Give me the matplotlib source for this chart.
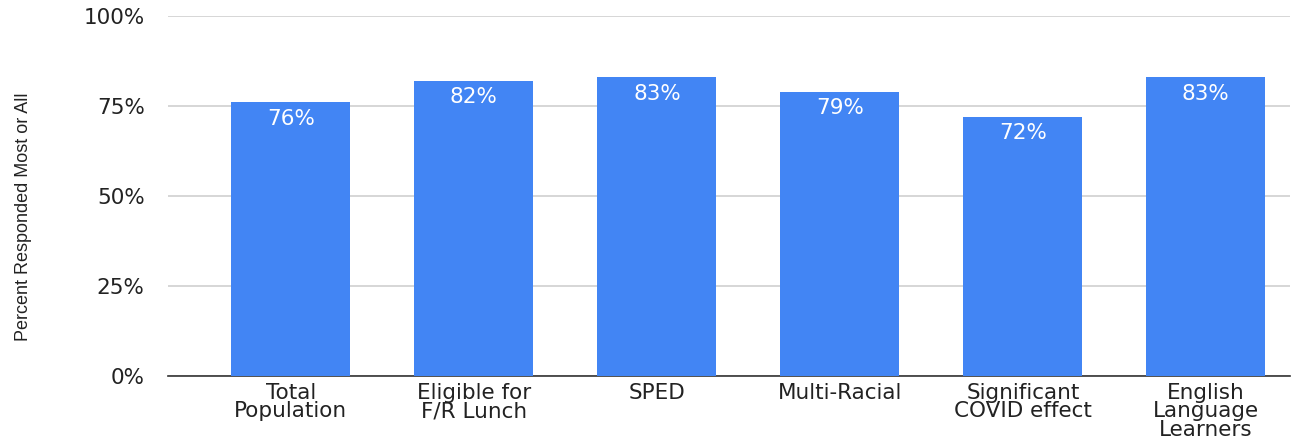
import matplotlib
matplotlib.use("Agg")
import matplotlib.pyplot as plt
from matplotlib import font_manager
from matplotlib.ticker import FuncFormatter

categories = ["Total\nPopulation", "Eligible for\nF/R Lunch", "SPED",
              "Multi-Racial", "Significant\nCOVID effect",
              "English\nLanguage\nLearners"]
values = [76, 82, 83, 79, 72, 83]
yticks = [0, 25, 50, 75, 100]

names = {f.name for f in font_manager.fontManager.ttflist}
narrow = "Liberation Sans Narrow" in names

fig = plt.figure(figsize=(13.15, 4.45), dpi=100)
ax = fig.add_axes([0.128, 0.155, 0.853, 0.809])

x = list(range(len(categories)))
ax.bar(x, values, width=0.65, color="#4285F4", zorder=3)

for xi, v in zip(x, values):
    ax.text(xi, v - 1.8, f"{v}%", ha="center", va="top", color="white",
            fontsize=15.5, family="DejaVu Sans", zorder=4)

ax.set_xlim(-0.67, 5.46)
ax.set_ylim(0, 100)
ax.set_yticks(yticks)
ax.yaxis.set_major_formatter(FuncFormatter(lambda v, p: f"{v:.0f}%"))
ax.set_xticks(x)
ax.set_xticklabels(categories, fontsize=15.5, family="DejaVu Sans",
                   color="#222222", linespacing=0.9)
for lab in ax.get_yticklabels():
    lab.set_fontsize(15.5)
    lab.set_family("DejaVu Sans")
    lab.set_color("#222222")

ax.grid(axis="y", color="#d0d0d0", linewidth=1.2, zorder=0)
for s in ["top", "right", "left"]:
    ax.spines[s].set_visible(False)
ax.spines["bottom"].set_color("#333333")
ax.spines["bottom"].set_linewidth(1.2)
ax.tick_params(axis="both", length=0)
ax.tick_params(axis="y", pad=17)
ax.tick_params(axis="x", pad=5)

if narrow:
    fig.text(0.018, 0.512, "Percent Responded Most or All", rotation=90,
             ha="center", va="center", fontsize=16,
             family="Liberation Sans Narrow", color="#222222")
else:
    fig.text(0.018, 0.512, "Percent Responded Most or All", rotation=90,
             ha="center", va="center", fontsize=13,
             family="Liberation Sans", color="#222222")

fig.savefig("out.png", dpi=100)
